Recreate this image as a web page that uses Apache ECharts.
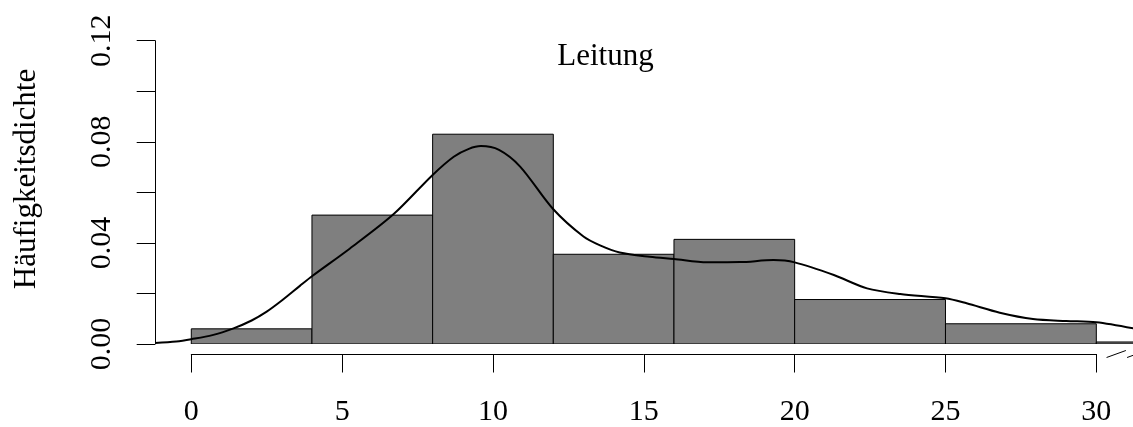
<!DOCTYPE html>
<html>
<head>
<meta charset="utf-8">
<script src="https://cdn.jsdelivr.net/npm/echarts@6/dist/echarts.min.js"></script>
<style>
html,body{margin:0;padding:0;background:#fff;}
#c{width:1133px;height:427px;}
</style>
</head>
<body>
<div id="c"></div>
<script>
// ---- data ----
const titleText = 'Leitung';
const yAxisTitle = 'Häufigkeitsdichte';
const binEdges = [0, 4, 8, 12, 16, 20, 25, 30, 35];
const binDensity = [0.006, 0.051, 0.083, 0.0355, 0.0414, 0.0176, 0.008, 0.0008];
const densityX = [-1.2, -0.5, 0, 0.7, 1.4, 2.0, 2.5, 3.0, 3.6, 4.0, 5.26, 6.7, 8.0, 8.7, 9.2, 9.6, 10.2, 10.9, 12.0, 13.0, 13.55, 14.2, 15.2, 16.0, 17.1, 18.2, 19.3, 20.0, 21.3, 22.4, 23.5, 25.0, 25.7, 26.8, 27.9, 29.0, 30.0, 31.22];
const densityY = [0.0004, 0.0010, 0.0019, 0.0035, 0.0062, 0.0093, 0.0128, 0.0172, 0.0230, 0.0268, 0.0378, 0.0513, 0.0669, 0.0741, 0.0772, 0.0783, 0.0768, 0.0702, 0.0533, 0.0425, 0.0390, 0.0362, 0.0345, 0.0336, 0.0323, 0.0324, 0.0332, 0.0323, 0.0273, 0.0220, 0.0198, 0.0181, 0.0161, 0.0124, 0.0099, 0.0091, 0.0086, 0.0062];
const xTickMin = 0, xTickMax = 30, xTickStep = 5;
const yMin = 0, yMax = 0.12, yTickStep = 0.02;
const yLabelValues = [0, 0.04, 0.08, 0.12];
const yTickLabels = ['0.00', '0.04', '0.08', '0.12'];
const breakMarks = [[30.34, 30.98], [31.02, 31.66]];
const xRange = [-1.203, 31.216];

// ---- layout ----
const W = 1133;
const plotLeft = 155, plotTop = 40.7, plotHeight = 303.3;
const plotW = W - plotLeft;
const axisLeft = plotLeft + (xTickMin - xRange[0]) / (xRange[1] - xRange[0]) * plotW;
const axisWidth = (xTickMax - xTickMin) / (xRange[1] - xRange[0]) * plotW;
const FONT = '"Liberation Serif", "DejaVu Serif", serif';

const chart = echarts.init(document.getElementById('c'), null, {renderer: 'canvas'});

const histData = binDensity.map((d, i) => [binEdges[i], binEdges[i + 1], d]);
const curveData = densityX.map((x, i) => [x, densityY[i]]);

function yLabel(v) {
  for (let i = 0; i < yLabelValues.length; i++) {
    if (Math.abs(v - yLabelValues[i]) < 1e-9) return yTickLabels[i];
  }
  return '';
}

chart.setOption({
  animation: false,
  backgroundColor: '#fff',
  grid: [
    {left: plotLeft, right: 0, top: plotTop, height: plotHeight, containLabel: false},
    {left: axisLeft, width: axisWidth, top: 346, height: 10.5, containLabel: false}
  ],
  xAxis: [
    {type: 'value', gridIndex: 0, min: xRange[0], max: xRange[1], show: false,
     axisLine: {onZero: false}},
    {
      type: 'value', gridIndex: 1, min: xTickMin, max: xTickMax, interval: xTickStep,
      position: 'bottom',
      axisLine: {show: true, onZero: false, lineStyle: {color: '#000', width: 1}},
      axisTick: {show: true, length: 18.5, lineStyle: {color: '#000', width: 1}},
      axisLabel: {show: true, margin: 43, fontFamily: FONT, fontSize: 30, color: '#000',
                  hideOverlap: false, showMinLabel: true, showMaxLabel: true},
      splitLine: {show: false}
    }
  ],
  yAxis: [
    {
      type: 'value', gridIndex: 0, min: yMin, max: yMax, interval: yTickStep,
      position: 'left',
      axisLine: {show: true, onZero: false, lineStyle: {color: '#000', width: 1}},
      axisTick: {show: true, length: 18.3, lineStyle: {color: '#000', width: 1}},
      axisLabel: {
        show: true, rotate: 90, margin: 38, hideOverlap: false,
        showMinLabel: true, showMaxLabel: true,
        fontFamily: FONT, fontSize: 30, color: '#000',
        formatter: yLabel
      },
      splitLine: {show: false}
    },
    {type: 'value', gridIndex: 1, min: 0, max: 1, show: false, axisLine: {onZero: false}}
  ],
  series: [
    {
      type: 'custom',
      xAxisIndex: 0, yAxisIndex: 0,
      data: histData,
      encode: {x: [0, 1], y: 2},
      clip: true,
      renderItem: function (params, api) {
        const p0 = api.coord([api.value(0), api.value(2)]);
        const p1 = api.coord([api.value(1), 0]);
        return {
          type: 'rect',
          shape: {x: p0[0], y: p0[1], width: p1[0] - p0[0], height: p1[1] - p0[1]},
          style: {fill: '#7f7f7f', stroke: '#000', lineWidth: 1}
        };
      },
      z: 2
    },
    {
      type: 'line',
      xAxisIndex: 0, yAxisIndex: 0,
      data: curveData,
      smooth: 0.3,
      showSymbol: false,
      symbol: 'none',
      lineStyle: {color: '#000', width: 2},
      clip: true,
      z: 3
    },
    {
      type: 'custom',
      xAxisIndex: 1, yAxisIndex: 1,
      data: breakMarks,
      encode: {x: [0, 1]},
      clip: false,
      renderItem: function (params, api) {
        const a = api.coord([api.value(0), 0]);
        const b = api.coord([api.value(1), 0]);
        return {
          type: 'line',
          shape: {x1: a[0], y1: a[1] + 3.5, x2: b[0], y2: b[1] - 3.5},
          style: {stroke: '#000', lineWidth: 1}
        };
      },
      z: 3
    }
  ],
  graphic: [
    {
      type: 'text', x: 605.5, y: 56.5,
      style: {text: titleText, fontFamily: FONT, fontSize: 31, fill: '#000', align: 'center', verticalAlign: 'middle'}
    },
    {
      type: 'text', x: 26.5, y: 179, rotation: Math.PI / 2,
      style: {text: yAxisTitle, fontFamily: FONT, fontSize: 31, fill: '#000', align: 'center', verticalAlign: 'middle'}
    }
  ]
});
</script>
</body>
</html>
